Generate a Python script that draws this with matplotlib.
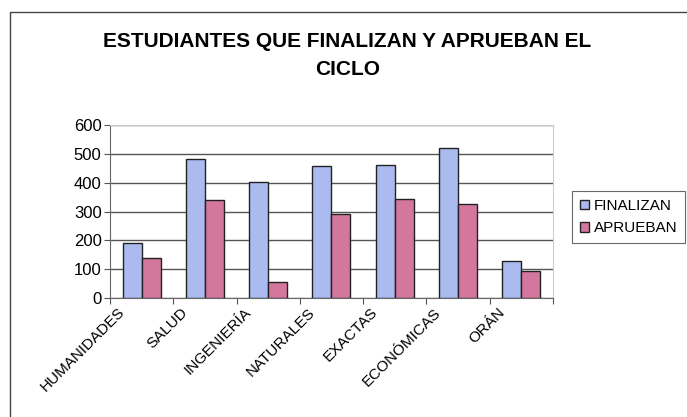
import matplotlib.pyplot as plt
import matplotlib.patches as mpatches
import matplotlib.transforms as mtransforms
import numpy as np

# data
categorias = ['HUMANIDADES', 'SALUD', 'INGENIERÍA', 'NATURALES', 'EXACTAS', 'ECONÓMICAS', 'ORÁN']
finalizan = [192, 483, 404, 457, 460, 520, 128]
aprueban = [140, 339, 55, 292, 345, 328, 94]

plt.rcParams['font.family'] = ['Liberation Sans', 'DejaVu Sans']

fig = plt.figure(figsize=(6.87, 4.17), dpi=100)
ax = fig.add_axes([0.160, 0.285, 0.645, 0.415])

x = np.arange(len(categorias))
w = 0.3
ax.bar(x - w / 2, finalizan, w, color='#abbbf0', edgecolor='#222222', linewidth=1.0,
       label='FINALIZAN', zorder=3)
ax.bar(x + w / 2, aprueban, w, color='#d4779f', edgecolor='#222222', linewidth=1.0,
       label='APRUEBAN', zorder=3)

ax.set_xlim(-0.5, len(categorias) - 0.5)
ax.set_ylim(0, 600)
ax.set_yticks(range(0, 601, 100))
ax.tick_params(axis='y', labelsize=12, length=4, width=0.8, color='#555555', pad=2)
ax.yaxis.grid(True, color='#555555', linewidth=1.0, zorder=0)

# category ticks between groups, labels centred on groups
ax.set_xticks(x)
ax.set_xticklabels(categorias, rotation=45, ha='right', va='top', rotation_mode='anchor',
                   fontsize=11)
ax.tick_params(axis='x', length=0, pad=5)
shift = mtransforms.ScaledTranslation(-24 / 100, 0, fig.dpi_scale_trans)
for lab in ax.get_xticklabels():
    lab.set_transform(lab.get_transform() + shift)
ax.set_xticks(np.arange(-0.5, len(categorias), 1), minor=True)
ax.tick_params(axis='x', which='minor', length=4, width=0.8, color='#555555')

for s in ['top', 'right']:
    ax.spines[s].set_color('#cccccc')
ax.spines['left'].set_color('#666666')
ax.spines['bottom'].set_color('#666666')

fig.text(0.506, 0.900, 'ESTUDIANTES QUE FINALIZAN Y APRUEBAN EL', ha='center', va='center',
         fontsize=15, fontweight='bold')
fig.text(0.506, 0.833, 'CICLO', ha='center', va='center', fontsize=15, fontweight='bold')

leg = fig.legend(loc='upper left', bbox_to_anchor=(0.822, 0.560), frameon=True, fontsize=11,
                 handlelength=0.6, handleheight=0.6, handletextpad=0.3, borderpad=0.5,
                 labelspacing=0.55, fancybox=False)
leg.get_frame().set_edgecolor('#444444')
leg.get_frame().set_linewidth(0.8)

# outer chart frame (scan shows only left and top edges)
fig.add_artist(mpatches.Rectangle((10 / 687, -0.1), 1.1, 1 - 12 / 417 + 0.1,
                                  transform=fig.transFigure, fill=False,
                                  edgecolor='#444444', linewidth=1.0))

fig.savefig('out.png', dpi=100)
